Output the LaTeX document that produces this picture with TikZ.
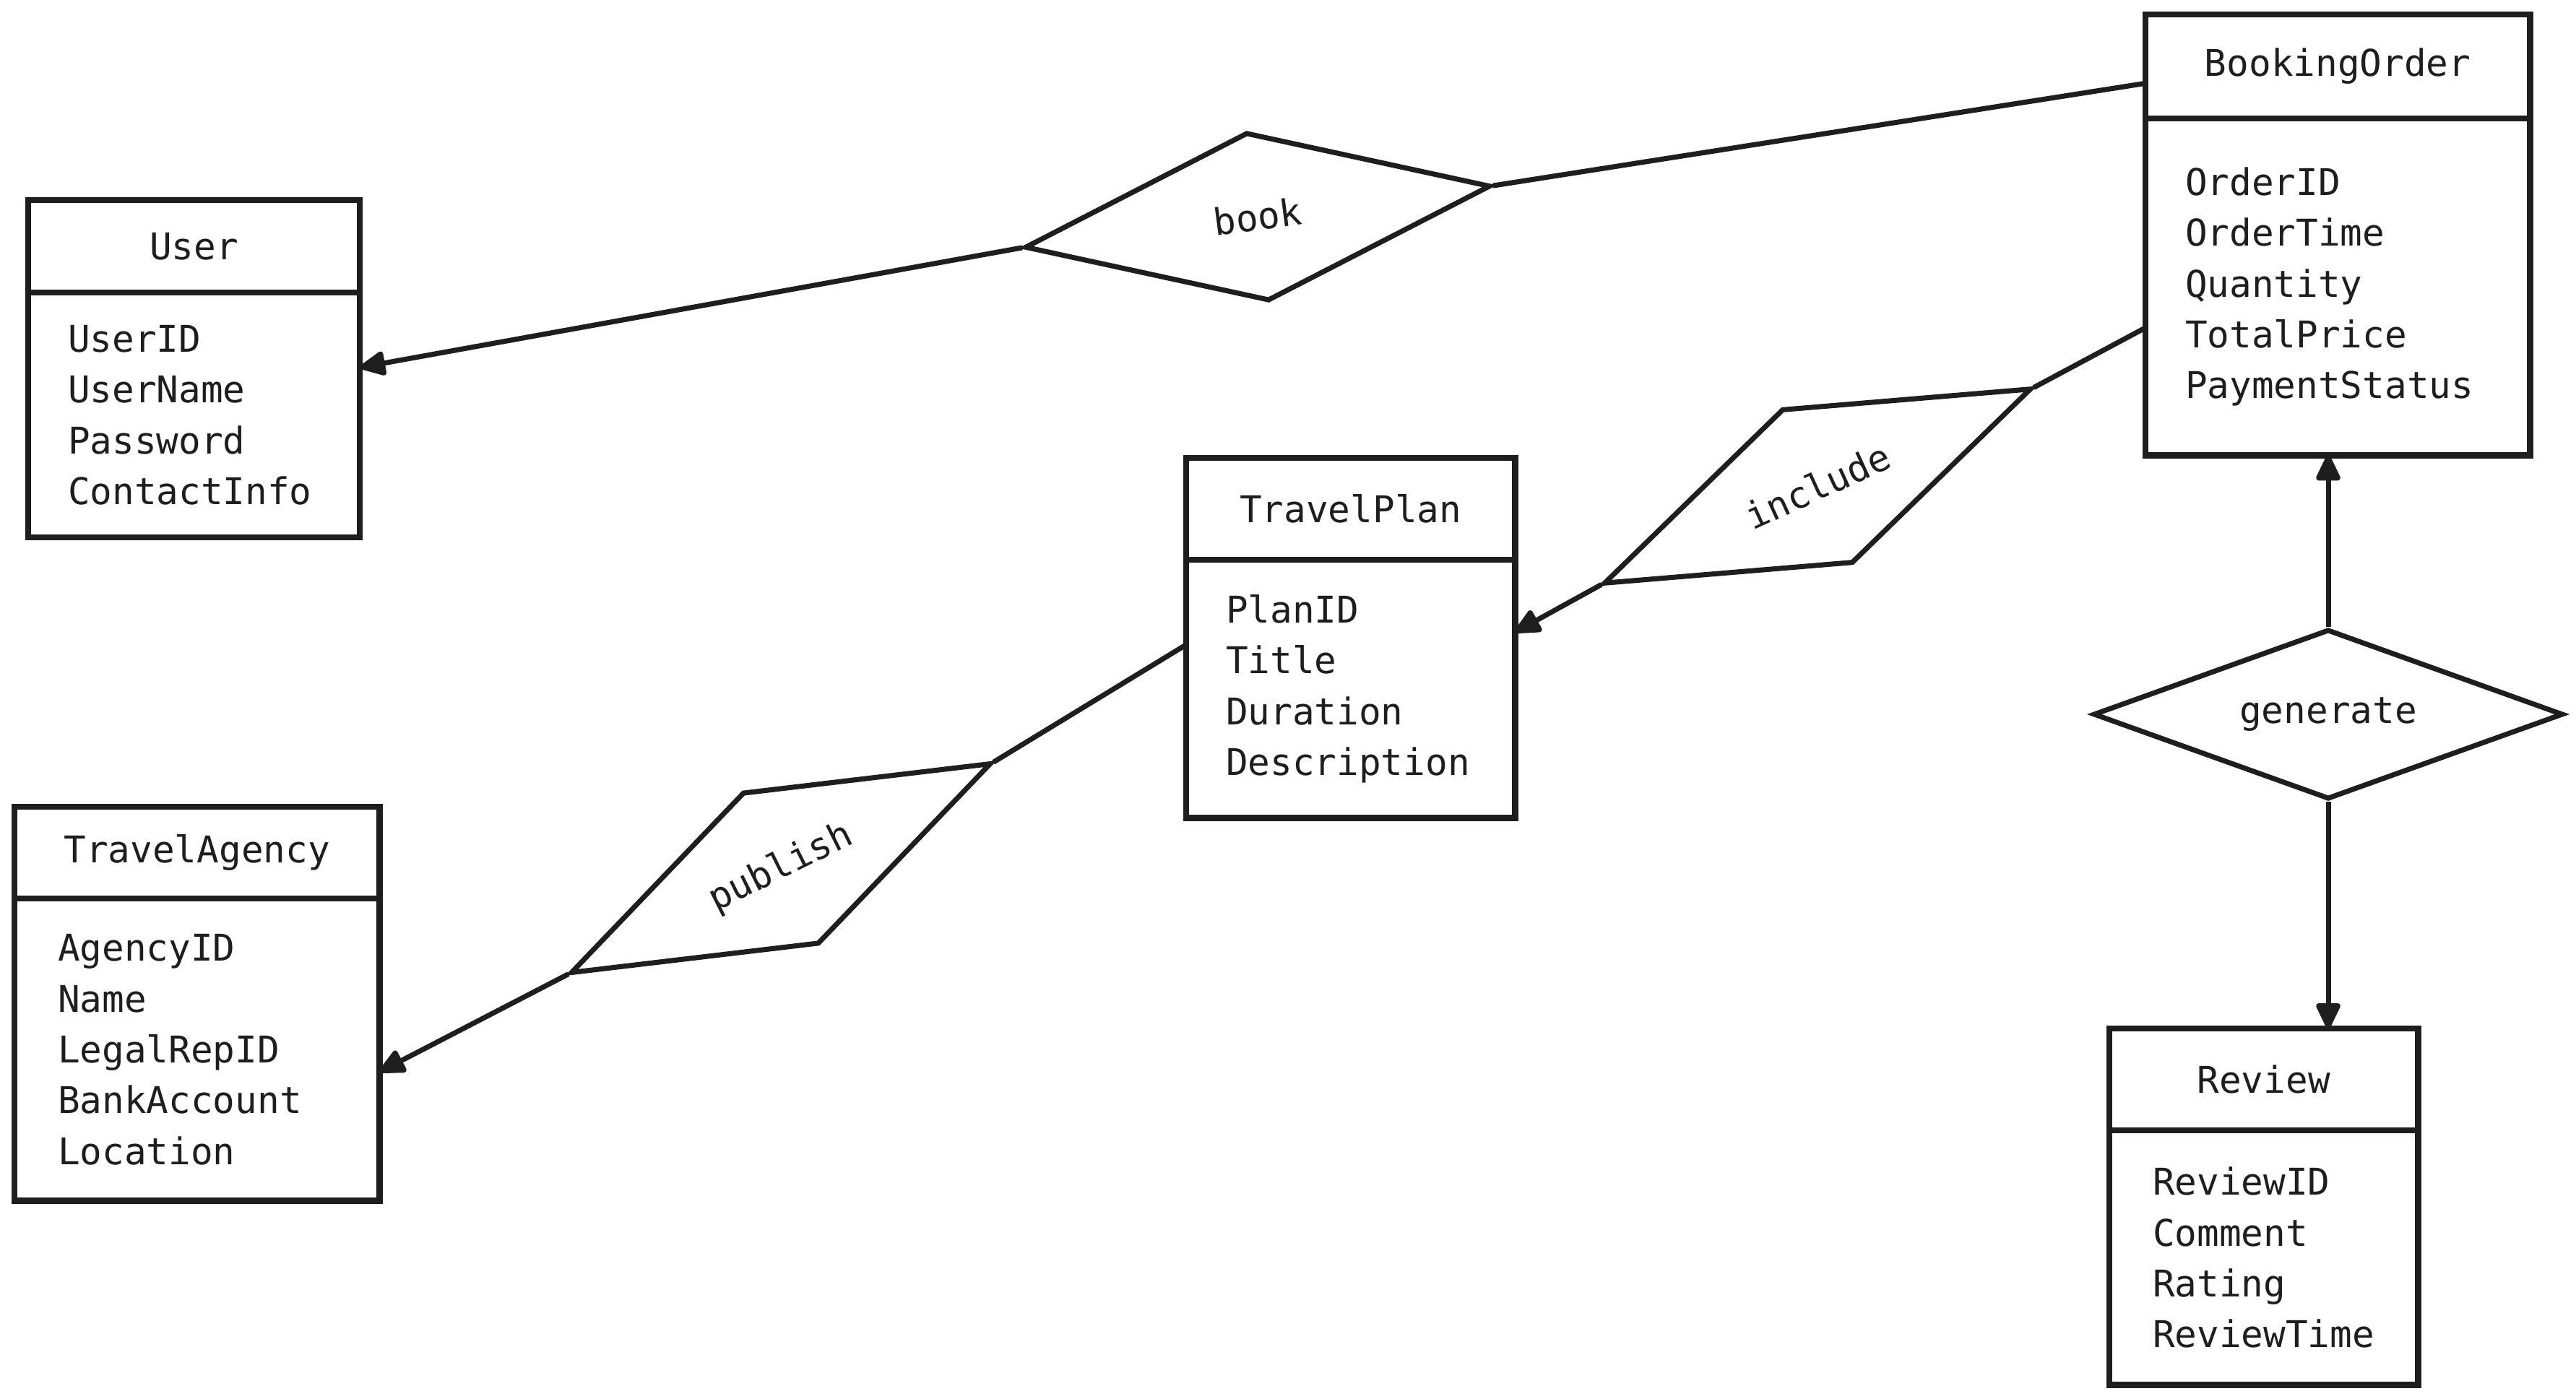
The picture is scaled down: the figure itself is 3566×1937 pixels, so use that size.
\documentclass[tikz,border=0pt]{standalone}
\usepackage{fontspec}
\newfontfamily\sketchfont{DejaVu Sans Mono}
\usetikzlibrary{positioning}
\usetikzlibrary{arrows.meta}
\usetikzlibrary{shapes.geometric}
\definecolor{ink}{HTML}{1E1E1E}

\begin{document}
\begin{tikzpicture}[x=0.01cm, y=-0.01cm,
    every node/.style={font=\sketchfont\fontsize{14.5}{20}\selectfont, text=ink},
    head/.style={draw=ink, line width=2.4pt, inner sep=0pt, outer sep=0pt, anchor=north west},
    attrs/.style={draw=ink, line width=2.4pt, inner xsep=0.55cm, inner ysep=0pt, outer sep=0pt, align=left},
    rel/.style={diamond, aspect=2.77, draw=ink, line width=2pt, inner sep=0pt, minimum width=6.5cm, minimum height=2.35cm},
    link/.style={draw=ink, line width=2pt},
    arr/.style={link, -{Triangle[length=0.4cm, width=0.36cm, round]}}]

  \useasboundingbox (0,0) rectangle (3566,1937);

  % entities
  \node[head, minimum width=4.59cm, minimum height=1.28cm] (userhead) at (39,277) {User};
  \node[attrs, below=0pt of userhead, text width=3.49cm, minimum height=3.39cm] (userbody) {UserID\\UserName\\Password\\ContactInfo};

  \node[head, minimum width=5.32cm, minimum height=1.44cm] (bohead) at (2970,20) {BookingOrder};
  \node[attrs, below=0pt of bohead, text width=4.22cm, minimum height=4.66cm] (bobody) {OrderID\\OrderTime\\Quantity\\TotalPrice\\PaymentStatus};

  \node[head, minimum width=4.55cm, minimum height=1.41cm] (tphead) at (1642,634) {TravelPlan};
  \node[attrs, below=0pt of tphead, text width=3.45cm, minimum height=3.57cm] (tpbody) {PlanID\\Title\\Duration\\Description};

  \node[head, minimum width=5.05cm, minimum height=1.27cm] (tahead) at (20,1117) {TravelAgency};
  \node[attrs, below=0pt of tahead, inner xsep=0.6cm, text width=3.85cm, minimum height=4.18cm] (tabody) {AgencyID\\Name\\LegalRepID\\BankAccount\\Location};

  \node[head, minimum width=4.27cm, minimum height=1.41cm] (revhead) at (2920,1424) {Review};
  \node[attrs, below=0pt of revhead, inner xsep=0.6cm, text width=3.07cm, minimum height=3.52cm] (revbody) {ReviewID\\Comment\\Rating\\ReviewTime};

  % relationships
  \node[rel, rotate=7.5] (book) at (1741,300) {book};
  \node[rel, rotate=24.5] (include) at (2516,673) {include};
  \node[rel, rotate=26.5] (publish) at (1081,1202) {publish};
  \node[rel] (generate) at (3223,989) {generate};

  % connectors
  \draw[link] (bohead.185) -- (book.east);
  \draw[arr] (book.west) -- (userbody.16);
  \draw[link] (bobody.192) -- (include.east);
  \draw[arr] (include.west) -- (tpbody.19);
  \draw[link] (tpbody.165) -- (publish.east);
  \draw[arr] (publish.west) -- (tabody.-7);
  \draw[arr] (generate.north) -- (generate.north |- bobody.south);
  \draw[arr] (generate.south) -- (generate.south |- revhead.north);

\end{tikzpicture}
\end{document}
